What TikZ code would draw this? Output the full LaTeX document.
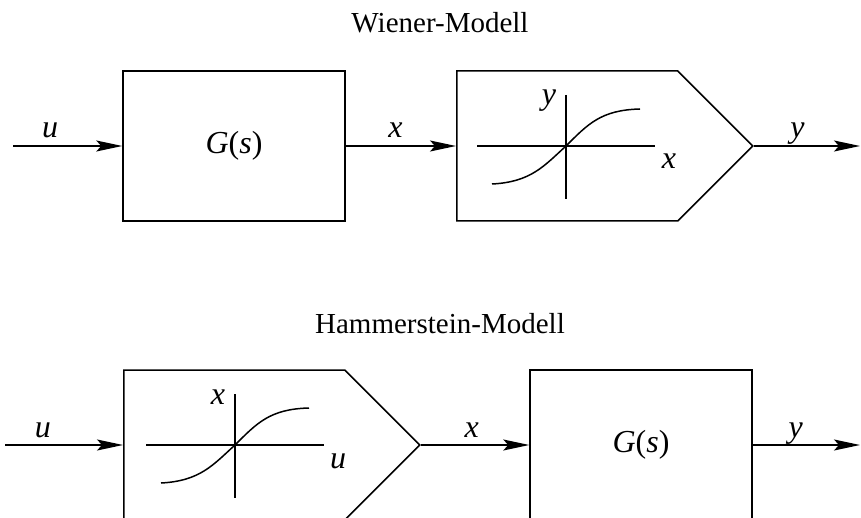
\documentclass[tikz,border=0pt]{standalone}
\usepackage{fontspec}
\setmainfont{Liberation Serif}
\usetikzlibrary{arrows.meta, shapes.symbols}

% static nonlinearity drawn around origin
\newcommand{\kennlinie}[3]{%
  \begin{scope}[shift={(#1)}]
    \draw (-89,0) -- (89,0) (0,-51) -- (0,53);
    \draw (-74,38) .. controls (-35,36) and (-22,20) .. (0,0)
          .. controls (22,-22) and (35,-36) .. (74,-37);
    \node[lab] at (-17,-41) {#2};
    \node[lab] at (103,23) {#3};
  \end{scope}}

\begin{document}
\begin{tikzpicture}[x=1pt, y=-1pt, line width=1.5pt,
    block/.style={draw, minimum width=222pt, minimum height=150pt, inner sep=0pt,
      font=\fontsize{32}{38}\selectfont},
    kenn/.style={draw, signal, signal to=east, signal pointer angle=90,
      minimum width=296pt, minimum height=150pt, inner sep=0pt, anchor=west},
    lab/.style={anchor=base, inner sep=0pt, font=\fontsize{32}{38}\selectfont\itshape},
    sig/.style={-{Stealth[length=26pt, width=11pt, inset=5pt]}},
    title/.style={anchor=base, font=\fontsize{29}{35}\selectfont}]
  \useasboundingbox (0,0) rectangle (861,518);
  \clip (0,0) rectangle (861,518);

  % Wiener
  \node[title] (t1) at (440,33) {Wiener-Modell};
  \coordinate (in1) at (13,146);
  \node[block] (G1) at (234,146) {{\itshape G}(\textit{s})};
  \node[kenn] (N1) at (456,146) {};
  \coordinate (out1) at (860,146);
  \kennlinie{566,146}{y}{x}
  \draw[sig] (in1) -- node[lab, pos=.34, yshift=8pt] {u} (G1.west);
  \draw[sig] (G1.east) -- node[lab, pos=.45, yshift=8pt] {x} (N1.west);
  \draw[sig] (N1.east) -- node[lab, pos=.41, yshift=8pt] {y} (out1);

  % Hammerstein
  \node[title] (t2) at (440,333) {Hammerstein-Modell};
  \coordinate (in2) at (5,445);
  \node[kenn] (N2) at (123,445) {};
  \node[block] (G2) at (641,445) {{\itshape G}(\textit{s})};
  \coordinate (out2) at (860,445);
  \kennlinie{235,445}{x}{u}
  \draw[sig] (in2) -- node[lab, pos=.32, yshift=8pt] {u} (N2.west);
  \draw[sig] (N2.east) -- node[lab, pos=.47, yshift=8pt] {x} (G2.west);
  \draw[sig] (G2.east) -- node[lab, pos=.4, yshift=8pt] {y} (out2);
\end{tikzpicture}
\end{document}
